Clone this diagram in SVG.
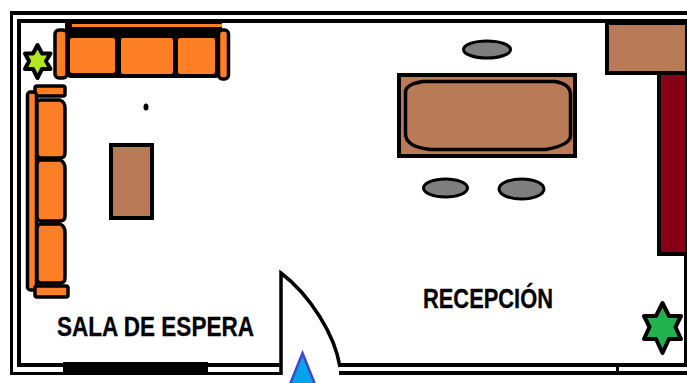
<svg xmlns="http://www.w3.org/2000/svg" width="687" height="383" viewBox="0 0 687 383">
<style>
.w{fill:#000}
.f{fill:#ff7f27}
.o{fill:#ff7f27;stroke:#000;stroke-width:3.5;stroke-linejoin:round}
.b{fill:#b97a57;stroke:#000;stroke-width:4}
.g{fill:#7f7f7f;stroke:#000;stroke-width:3}
text{font-family:"Liberation Sans",Arial,sans-serif;font-weight:700;fill:#000;stroke:#000;stroke-width:.3}
</style>
<rect width="687" height="383" fill="#fff"/>
<g id="walls">
<rect class="w" x="10" y="11" width="677" height="4"/>
<rect class="w" x="10" y="11" width="3" height="364"/>
<rect class="w" x="17" y="19" width="670" height="4"/>
<rect class="w" x="17" y="19" width="4" height="348"/>
<rect class="w" x="17" y="363" width="264" height="4"/>
<rect class="w" x="10" y="372" width="271" height="3"/>
<rect class="w" x="63" y="362" width="145" height="10"/>
<rect class="w" x="339" y="363" width="348" height="4"/>
<rect class="w" x="339" y="371" width="348" height="4"/>
<rect class="w" x="616" y="365" width="3" height="8"/>
<rect class="w" x="684" y="19" width="3" height="346"/>
</g>
<g id="sofa-top">
<rect class="w" x="65" y="23" width="157" height="15"/>
<rect class="f" x="72" y="24" width="150" height="3"/>
<rect class="o" x="55" y="30" width="12" height="48" rx="4"/>
<rect class="o" x="218.500" y="30" width="10" height="49" rx="4"/>
<rect class="w" x="67" y="35" width="152" height="43" rx="4"/>
<rect class="f" x="70" y="38" width="45" height="35" rx="2"/>
<rect class="f" x="121" y="38" width="52" height="36" rx="2"/>
<rect class="f" x="178" y="38" width="37" height="36" rx="2"/>
</g>
<g id="sofa-left">
<rect class="o" x="35" y="86" width="30" height="10" rx="2"/>
<rect class="o" x="27.500" y="92" width="9" height="198" rx="3"/>
<rect class="o" x="35" y="286" width="33" height="11" rx="2"/>
<path class="o" d="M41 100H60Q65 102 65 108V153Q65 158 60 158H41Q37 158 37 153V103Q37 100 41 100Z"/>
<path class="o" d="M41 160H60Q65 162 65 168V216Q65 221 60 221H41Q37 221 37 216V165Q37 160 41 160Z"/>
<path class="o" d="M41 224H60Q65 226 65 232V278Q65 283 60 283H41Q37 283 37 278V229Q37 224 41 224Z"/>
</g>
<g id="plant-left">
<path d="M37.500 45L42 53.500H50.500L46 61L50.500 69H42L37.500 78L33 69H25L29 61L25 53.500H33Z" fill="#b5e61d" stroke="#000" stroke-width="4" stroke-linejoin="round"/>
</g>
<g id="dot"><ellipse class="w" cx="146" cy="107" rx="2.500" ry="3.500"/></g>
<g id="coffee-table"><rect class="b" x="111" y="145" width="41" height="73"/></g>
<g id="stool-top"><ellipse class="g" cx="487" cy="49.500" rx="23.500" ry="8.500"/></g>
<g id="desk">
<rect class="b" x="399" y="75" width="176" height="81"/>
<path d="M423 81.500H555Q570 84 570.500 94V136Q570 145 546 149.500H430Q406 147 405.500 134V92Q406 84 423 81.500Z" fill="#b97a57" stroke="#000" stroke-width="3.500"/>
</g>
<g id="stool-left"><ellipse class="g" cx="445.500" cy="188" rx="22" ry="9"/></g>
<g id="stool-right"><ellipse class="g" cx="521.500" cy="189" rx="22.500" ry="10"/></g>
<g id="cabinet"><rect class="b" x="607" y="23" width="80" height="50"/></g>
<g id="counter"><rect x="659" y="73" width="28" height="181" fill="#880015" stroke="#000" stroke-width="4"/></g>
<g id="plant-right">
<path d="M662.500 303L669 316H681L675.500 327L681 339H669L662.500 353L656 339H644L649.500 327L644 316H656Z" fill="#22b14c" stroke="#000" stroke-width="4" stroke-linejoin="round"/>
</g>
<g id="door">
<path d="M281 375V273C310 295 335 335 340 367" fill="none" stroke="#000" stroke-width="3.500"/>
</g>
<g id="entrance"><path d="M302.500 353L316.500 388H288.500Z" fill="#00a2e8" stroke="#3f48cc" stroke-width="2.500"/></g>
<g id="labels">
<text x="57" y="336" font-size="27.500" textLength="197" lengthAdjust="spacingAndGlyphs">SALA DE ESPERA</text>
<text x="423" y="308" font-size="27.500" textLength="130" lengthAdjust="spacingAndGlyphs">RECEPCIÓN</text>
</g>
</svg>
